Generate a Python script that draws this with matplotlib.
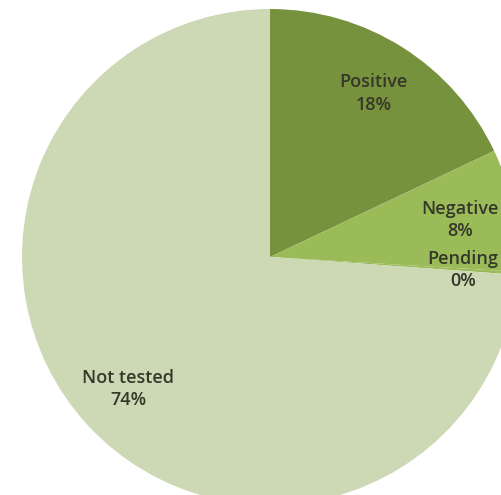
import numpy as np
import matplotlib.pyplot as plt

# test result shares
categories = ["Positive", "Negative", "Pending", "Not tested"]
shares = [18, 8, 0.2, 74]
pct_labels = ["18%", "8%", "0%", "74%"]
colors = ["#76923C", "#9BBB59", "#9BBB59", "#CCD9B4"]

fig = plt.figure(figsize=(5.01, 4.95), dpi=100)
ax = fig.add_axes([0, 0, 1, 1])

labels = [c + "\n" + p for c, p in zip(categories, pct_labels)]
wedges, texts = ax.pie(shares, labels=labels, colors=colors, startangle=90,
                       counterclock=False, labeldistance=0.78, radius=1,
                       wedgeprops=dict(linewidth=0),
                       textprops=dict(fontsize=13, color="#34372a",
                                      family="Open Sans", weight="semibold",
                                      linespacing=1.3))
for t in texts:
    t.set_ha("center")
    t.set_va("center")

# the pie runs off the right and bottom edges in the original
ax.set_xlim(-270 / 248, 231 / 248)
ax.set_ylim(-238 / 248, 257 / 248)
ax.set_aspect("equal")
ax.axis("off")

fig.savefig("out.png", dpi=100)
